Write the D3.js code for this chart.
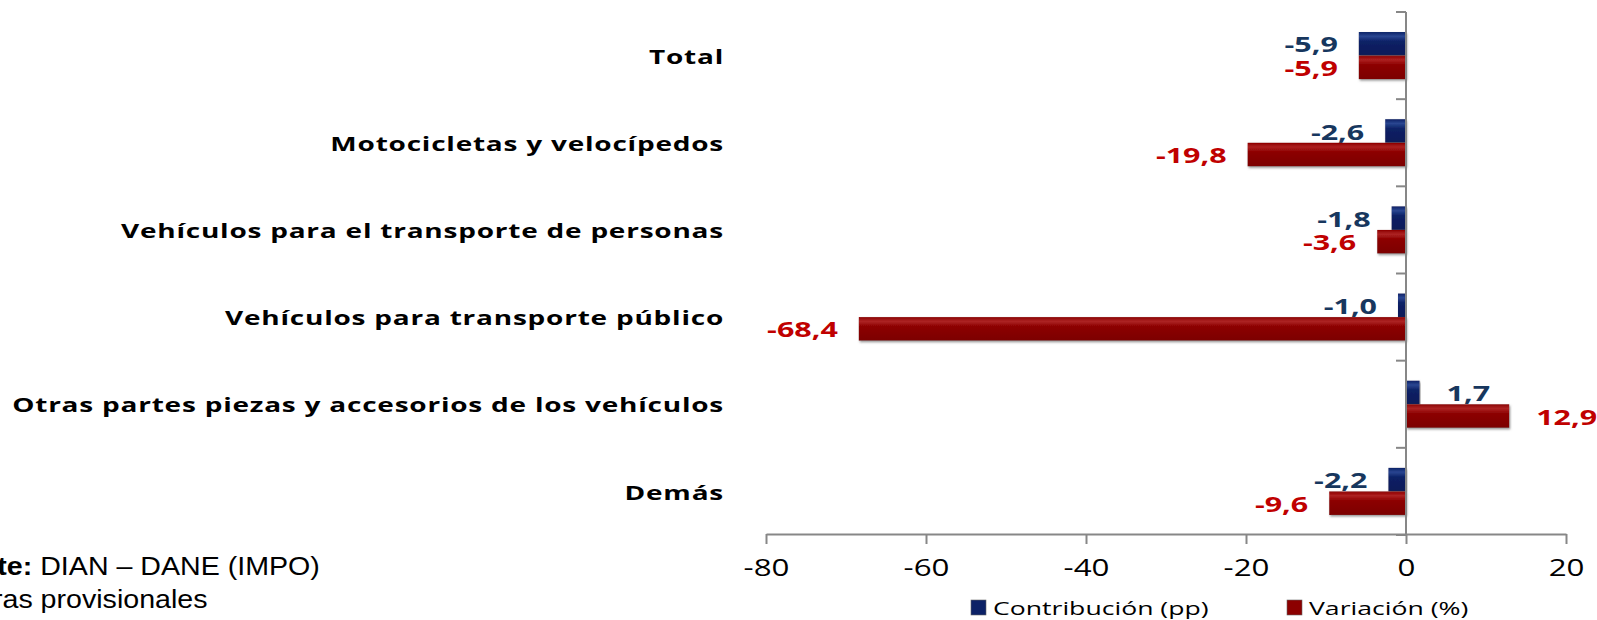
<!DOCTYPE html>
<html>
<head>
<meta charset="utf-8">
<script src="https://cdn.jsdelivr.net/npm/d3@7"></script>
<style>
  body { margin: 0; background: #fff; overflow: hidden; }
  svg { display: block; }
</style>
</head>
<body>
<div id="chart"></div>
<script>
// Data
var categories = [
    "Total",
    "Motocicletas y velocípedos",
    "Vehículos para el transporte de personas",
    "Vehículos para transporte público",
    "Otras partes piezas y accesorios de los vehículos",
    "Demás"
];
var contribucion = [-5.9, -2.6, -1.8, -1.0, 1.7, -2.2];
var variacion = [-5.9, -19.8, -3.6, -68.4, 12.9, -9.6];
var seriesNames = ["Contribución (pp)", "Variación (%)"];
var xTicks = [-80, -60, -40, -20, 0, 20];

var W = 1597, H = 620;
var SX = 1.4; // the reference text is stretched horizontally

var svg = d3.select("#chart").append("svg")
    .attr("width", W)
    .attr("height", H);

var defs = svg.append("defs");

// bevelled bar look: dark base with a lighter strip near the top
function barGradient(id, base, light, dark) {
    var g = defs.append("linearGradient")
        .attr("id", id)
        .attr("x1", 0).attr("y1", 0).attr("x2", 0).attr("y2", 1);
    g.append("stop").attr("offset", "0%").attr("stop-color", base);
    g.append("stop").attr("offset", "18%").attr("stop-color", light);
    g.append("stop").attr("offset", "40%").attr("stop-color", base);
    g.append("stop").attr("offset", "100%").attr("stop-color", dark);
}
barGradient("gBlue", "#0c2166", "#2a4691", "#081a58");
barGradient("gRed", "#8c0000", "#ad2222", "#7c0000");

var shadow = defs.append("filter").attr("id", "shadow")
    .attr("x", "-10%").attr("y", "-20%").attr("width", "120%").attr("height", "150%");
shadow.append("feDropShadow")
    .attr("dx", 1).attr("dy", 1.5)
    .attr("stdDeviation", 1.2)
    .attr("flood-color", "#777")
    .attr("flood-opacity", 0.8);

var fills = ["url(#gBlue)", "url(#gRed)"];
var labelColors = ["#17375e", "#c00000"];
var swatchColors = ["#0c2166", "#8c0000"];

/**
 * SCALES
 */
var xScale = d3.scaleLinear()
    .domain([-80, 20])
    .range([766, 1566]);

var yScale = d3.scaleBand()
    .domain(categories)
    .range([12, 535])
    .paddingInner(0)
    .paddingOuter(0);

var ySub = d3.scaleBand()
    .domain(seriesNames)
    .range([0, yScale.bandwidth()])
    .paddingInner(0)
    .paddingOuter(0.85);

function fmt(v) {
    return d3.format(".1f")(v).replace("\u2212", "-").replace(".", ",");
}

/**
 * X-AXIS
 */
var xAxis = svg.append("g")
    .attr("transform", "translate(0," + 534 + ")")
    .call(d3.axisBottom(xScale)
        .tickValues(xTicks)
        .tickSize(10)
        .tickSizeOuter(0)
        .tickPadding(16)
        .tickFormat(function (d) { return String(d); }));

xAxis.select(".domain").attr("stroke", "#878787").attr("stroke-width", 2);
xAxis.selectAll(".tick line").attr("stroke", "#878787").attr("stroke-width", 2);
xAxis.selectAll(".tick text")
    .attr("fill", "#000")
    .style("font-family", "'Open Sans', sans-serif")
    .style("font-size", "23px")
    .attr("transform", "scale(1.36,1)");

/**
 * BARS
 */
var rows = categories.map(function (c, i) {
    return { cat: c, values: [contribucion[i], variacion[i]] };
});

rows.forEach(function (row) {
    row.values.forEach(function (v, s) {
        var y0 = yScale(row.cat) + ySub(seriesNames[s]);
        var h = ySub.bandwidth();
        svg.append("rect")
            .attr("x", xScale(Math.min(0, v)))
            .attr("y", y0)
            .attr("width", Math.abs(xScale(v) - xScale(0)))
            .attr("height", h)
            .attr("fill", fills[s])
            .attr("filter", "url(#shadow)");

        // value label, outside the bar end
        var lx = v < 0 ? xScale(v) - 21 : xScale(v) + 27;
        svg.append("text")
            .attr("transform", "translate(" + lx + "," + (y0 + h / 2 + 1) + ") scale(1.45,1)")
            .attr("dy", "0.36em")
            .attr("text-anchor", v < 0 ? "end" : "start")
            .attr("fill", labelColors[s])
            .style("font-family", "'Open Sans', sans-serif")
            .style("font-weight", "bold")
            .style("font-size", "21px")
            .text(fmt(v));
    });
});

/**
 * Y-AXIS (vertical line at zero with category separators)
 */
var yAxisG = svg.append("g");
yAxisG.append("line")
    .attr("x1", xScale(0)).attr("x2", xScale(0))
    .attr("y1", yScale.range()[0]).attr("y2", yScale.range()[1])
    .attr("stroke", "#878787").attr("stroke-width", 2);

var bounds = categories.map(function (c) { return yScale(c); });
bounds.push(yScale.range()[1]);
yAxisG.selectAll("line.sep")
    .data(bounds)
    .enter()
    .append("line")
    .attr("class", "sep")
    .attr("x1", xScale(0) - 10).attr("x2", xScale(0))
    .attr("y1", function (d) { return d; })
    .attr("y2", function (d) { return d; })
    .attr("stroke", "#878787").attr("stroke-width", 2);

// category labels on the left
svg.selectAll("text.cat")
    .data(categories)
    .enter()
    .append("text")
    .attr("class", "cat")
    .attr("transform", function (d) {
        return "translate(724," + (yScale(d) + yScale.bandwidth() / 2 + 1) + ") scale(" + SX + ",1)";
    })
    .attr("dy", "0.36em")
    .attr("text-anchor", "end")
    .attr("fill", "#000")
    .style("font-family", "'Open Sans', sans-serif")
    .style("font-weight", "bold")
    .style("font-size", "20px")
    .style("letter-spacing", "0.55px")
    .text(function (d) { return d; });

/**
 * LEGEND
 */
var legendX = [971, 1287];
seriesNames.forEach(function (name, s) {
    var lg = svg.append("g").attr("transform", "translate(" + legendX[s] + ",608)");
    lg.append("rect")
        .attr("x", 0).attr("y", -8)
        .attr("width", 15).attr("height", 15)
        .attr("fill", swatchColors[s])
        .attr("stroke", "#666").attr("stroke-width", 0.6);
    lg.append("text")
        .attr("transform", "translate(22,0) scale(" + SX + ",1)")
        .attr("dy", "0.35em")
        .attr("fill", "#000")
        .style("font-family", "'Open Sans', sans-serif")
        .style("font-size", "19px")
        .text(name);
});

/**
 * SOURCE NOTE (cut off at the left edge, as in the reference)
 */
var note = svg.append("text")
    .attr("transform", "translate(-71,575) scale(1.1,1)")
    .style("font-family", "'Liberation Sans', Arial, sans-serif")
    .style("font-size", "26px")
    .attr("fill", "#000");
note.append("tspan").style("font-weight", "bold").text("Fuente:");
note.append("tspan").text(" DIAN – DANE (IMPO)");

svg.append("text")
    .attr("transform", "translate(-42,608) scale(1.1,1)")
    .style("font-family", "'Liberation Sans', Arial, sans-serif")
    .style("font-size", "26px")
    .attr("fill", "#000")
    .text("Cifras provisionales");
</script>
</body>
</html>
